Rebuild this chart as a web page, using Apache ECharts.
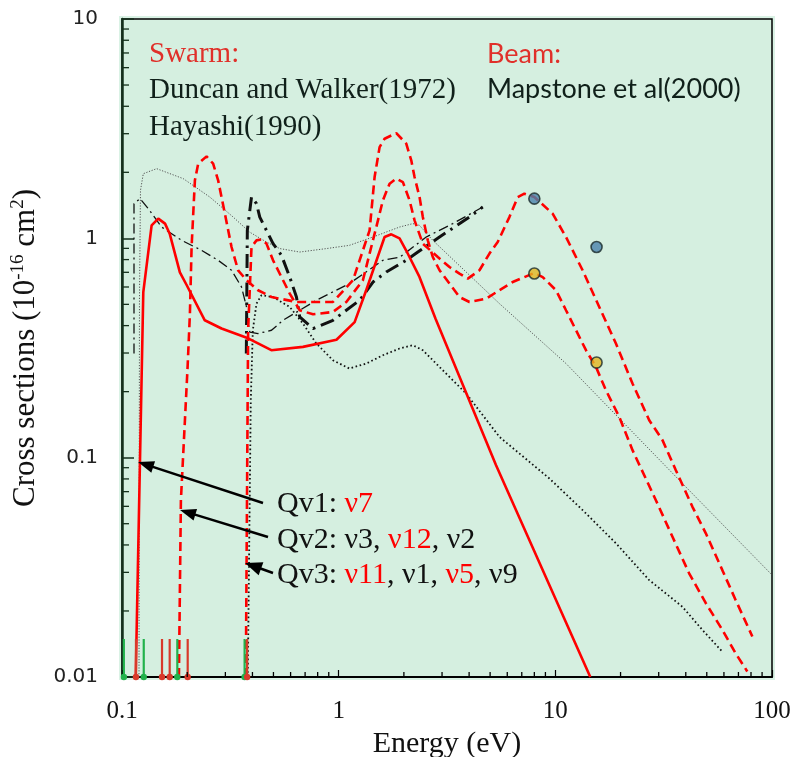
<!DOCTYPE html>
<html><head><meta charset="utf-8">
<script src="https://cdn.jsdelivr.net/npm/echarts@6/dist/echarts.min.js"></script>
<style>html,body{margin:0;padding:0;background:#fff}#c{width:796px;height:757px}</style>
</head><body><div id="c"></div>
<script>
// ---- tick labels ----
const xTickLabels = ['0.1', '1', '10', '100'];
const yTickLabels = ['0.01', '0.1', '1', '10'];
const xMinorTicks = [0.2,0.3,0.4,0.5,0.6,0.7,0.8,0.9,2,3,4,5,6,7,8,9,20,30,40,50,60,70,80,90];
const yMinorTicks = [0.02,0.03,0.04,0.05,0.06,0.07,0.08,0.09,0.2,0.3,0.4,0.5,0.6,0.7,0.8,0.9,2,3,4,5,6,7,8,9];

// ---- Qv1 (red solid) ----
const qv1E = [0.1157,0.1254,0.137,0.147,0.158,0.166,0.185,0.199,0.241,0.288,0.382,0.489,0.684,0.977,1.185,1.34,1.629,1.75,1.91,2.05,2.36,2.8,5.32,14.5];
const qv1S = [0.01,0.569,1.146,1.23,1.167,1.05,0.70,0.611,0.423,0.388,0.35,0.309,0.32,0.345,0.415,0.58,1.014,1.043,1.0,0.88,0.667,0.43,0.0925,0.01];

// ---- Qv2 (red dashed, high peak) ----
const qv2E = [0.1831,0.187,0.2008,0.2058,0.2095,0.217,0.2247,0.2457,0.2634,0.2778,0.2984,0.3203,0.3435,0.3756,0.4247,0.4897,0.6385,0.941,1.164,1.389,1.465,1.545,1.629,1.845,2.051,2.163,2.24,2.362,2.446,2.579,2.72,2.921,3.247,3.611,4.015,4.793,5.52,6.357,8.0,8.74,10.07,11.2,12.46,13.85,15.4,17.12,19.72,22.71,29.11,34.72,41.45,49.5,59.0,68.0,76.9];
const qv2S = [0.01,0.064,0.2593,0.454,0.913,1.838,2.19,2.364,2.19,1.838,1.296,0.913,0.715,0.644,0.58,0.54,0.5127,0.5127,0.644,1.087,1.903,2.606,2.846,3.018,2.70,2.267,1.903,1.542,1.25,0.979,0.822,0.715,0.622,0.54,0.5127,0.531,0.58,0.632,0.695,0.666,0.58,0.47,0.381,0.309,0.259,0.203,0.1535,0.1082,0.064,0.0436,0.0297,0.0217,0.0164,0.0128,0.0106];

// ---- Qv3 (red dashed, lower peak) ----
const qv3E = [0.3728,0.382,0.387,0.396,0.4176,0.4418,0.4643,0.498,0.5537,0.5945,0.661,0.7613,0.941,1.085,1.294,1.389,1.492,1.60,1.718,1.845,1.979,2.124,2.24,2.446,2.868,3.247,3.611,3.944,4.466,4.965,5.42,6.138,6.704,7.195,8.0,9.718,11.2,13.36,15.95,19.04,22.71,27.12,31.23,35.99,42.93,49.5,59.0,68.0,81.15];
const qv3S = [0.01,0.381,0.522,0.913,0.979,0.989,0.946,0.794,0.644,0.56,0.47,0.4506,0.4616,0.5127,0.644,0.852,1.126,1.49,1.775,1.871,1.805,1.49,1.208,0.946,0.822,0.74,0.691,0.655,0.715,0.852,0.962,1.25,1.542,1.598,1.542,1.296,1.014,0.715,0.4864,0.3314,0.2178,0.1482,0.1202,0.0877,0.0597,0.0452,0.0307,0.0224,0.0153];

// ---- upper thin dotted ----
const dotAE = [0.1198,0.1204,0.1217,0.1254,0.1445,0.1918,0.2544,0.326,0.388,0.464,0.535,0.661,0.878,1.12,1.44,1.91,2.20,2.36,2.72,5.52,11.2,38.6,100];
const dotAS = [0.01,0.522,1.654,1.971,2.078,1.871,1.542,1.25,1.068,0.962,0.898,0.866,0.898,0.929,1.014,1.126,1.167,1.146,0.979,0.504,0.2687,0.0763,0.0292];

// ---- lower dotted ----
const dotBE = [0.3807,0.393,0.4016,0.4176,0.4403,0.498,0.5945,0.6845,0.789,0.941,1.12,1.342,1.60,1.91,2.20,2.446,2.921,3.877,5.52,9.385,13.36,19.04,27.12,38.6,47.7,59.0];
const dotBS = [0.01,0.1828,0.381,0.504,0.55,0.54,0.4864,0.4087,0.3314,0.278,0.255,0.2687,0.293,0.3145,0.3255,0.309,0.259,0.196,0.1244,0.0804,0.0577,0.0407,0.02766,0.0209,0.0164,0.01304];

// ---- thin dash-dot ----
const ddAE = [0.1136,0.1136,0.1211,0.1322,0.1524,0.1884,0.2329,0.2778,0.3203,0.3562,0.3756,0.382,0.389,0.4247,0.4897,0.5537,0.789,1.12,1.60,1.91,2.536,3.363,4.624];
const ddAS = [0.2984,1.439,1.517,1.366,1.126,0.979,0.882,0.794,0.715,0.60,0.4864,0.4087,0.374,0.368,0.381,0.423,0.522,0.622,0.794,0.819,1.014,1.167,1.389];

// ---- thick dash-dot ----
const ddBE = [0.3748,0.3788,0.396,0.4176,0.4324,0.498,0.5445,0.5945,0.6385,0.661,0.7613,0.941,1.25,1.44,1.659,2.051,2.32,2.921,4.015,4.624];
const ddBS = [0.2984,1.087,1.542,1.439,1.25,0.946,0.837,0.666,0.54,0.438,0.388,0.423,0.522,0.632,0.702,0.794,0.866,1.014,1.25,1.389];

// ---- beam points ----
const beamE = [8.0, 15.5];
const beamBlueS = [1.517, 0.913];
const beamYellowS = [0.691, 0.2714];

// ---- threshold markers ----
const greenThr = [0.102, 0.126, 0.180, 0.368];
const redThr = [0.116, 0.153, 0.166, 0.201, 0.378];
const thrBottom = 0.01, thrTop = 0.0149;

const zip = (a, b) => a.map((v, i) => [v, b[i]]);

const chart = echarts.init(document.getElementById('c'), null, {renderer: 'canvas'});

function lineSeries(name, E, S, style) {
  return {name, type: 'line', data: zip(E, S), symbol: 'none', showSymbol: false,
    smooth: false, lineStyle: style, z: 3, animation: false};
}

function thrSeries(vals, color, w) {
  return {type: 'custom', data: vals.map(v => [v, thrBottom]), z: 4, animation: false,
    renderItem: (p, api) => {
      const a = api.coord([api.value(0), thrBottom]);
      const b = api.coord([api.value(0), thrTop]);
      return {type: 'group', children: [
        {type: 'line', shape: {x1: a[0], y1: a[1], x2: b[0], y2: b[1]}, style: {stroke: color, lineWidth: w}},
        {type: 'circle', shape: {cx: a[0], cy: a[1], r: 3.2}, style: {fill: color}}
      ]};
    }};
}

function arrow(sx, sy, tx, ty, L, W) {
  const dx = tx - sx, dy = ty - sy, len = Math.hypot(dx, dy), ux = dx / len, uy = dy / len;
  const bx = tx - ux * L, by = ty - uy * L;
  return [
    {type: 'line', shape: {x1: sx, y1: sy, x2: bx + ux * 2, y2: by + uy * 2}, style: {stroke: '#000', lineWidth: 2.5}, z: 10},
    {type: 'polygon', shape: {points: [[tx, ty], [bx - uy * W, by + ux * W], [bx + uy * W, by - ux * W]]}, style: {fill: '#000'}, z: 10}
  ];
}

const serif = '"Liberation Serif", "Times New Roman", serif';
const sans = 'Lato, "Open Sans", sans-serif';
const RED = '#ff0000';
const qvFont = '30px ' + serif;

const option = {
  animation: false,
  backgroundColor: '#fff',
  grid: {left: 122, top: 19, right: 24, bottom: 80, show: true, containLabel: false, outerBoundsMode: 'none',
    backgroundColor: '#d5efe0', borderColor: '#000', borderWidth: 1.5},
  xAxis: {
    type: 'log', logBase: 10, min: 0.1, max: 100,
    axisLine: {show: true, lineStyle: {color: '#000', width: 2}},
    axisTick: {show: true, inside: true, length: 7, lineStyle: {color: '#000', width: 1.2}},
    splitLine: {show: false},
    axisLabel: {margin: 22, fontFamily: serif, fontSize: 25, color: '#111',
      formatter: v => xTickLabels[Math.round(Math.log10(v)) + 1]},
    name: 'Energy (eV)', nameLocation: 'middle', nameGap: 52,
    nameTextStyle: {fontFamily: serif, fontSize: 30, color: '#111'}
  },
  yAxis: {
    type: 'log', logBase: 10, min: 0.01, max: 10,
    axisLine: {show: true, lineStyle: {color: '#14301c', width: 2.5}},
    axisTick: {show: true, inside: true, length: 12, lineStyle: {color: '#14301c', width: 1.5}},
    splitLine: {show: false},
    axisLabel: {margin: 24, fontFamily: '"DejaVu Sans", Verdana, sans-serif', fontSize: 20, color: '#222',
      formatter: v => yTickLabels[Math.round(Math.log10(v)) + 2]},
    name: 'Cross sections (10{sup|-16} cm{sup|2})', nameLocation: 'middle', nameGap: 70, nameRotate: 90,
    nameTextStyle: {fontFamily: serif, fontSize: 31, color: '#111', lineHeight: 34,
      rich: {sup: {fontFamily: serif, fontSize: 19, color: '#111', verticalAlign: 'top', lineHeight: 34}}}
  },
  series: [
    {type: 'custom', data: xMinorTicks.map(v => [v, 0.01]), z: 5, animation: false,
      renderItem: (p, api) => { const c = api.coord([api.value(0), 0.01]);
        return {type: 'line', shape: {x1: c[0], y1: c[1], x2: c[0], y2: c[1] - 5}, style: {stroke: '#000', lineWidth: 1.3}}; }},
    {type: 'custom', data: yMinorTicks.map(v => [0.1, v]), z: 5, animation: false,
      renderItem: (p, api) => { const c = api.coord([0.1, api.value(1)]);
        return {type: 'line', shape: {x1: c[0], y1: c[1], x2: c[0] + 7, y2: c[1]}, style: {stroke: '#14301c', lineWidth: 1.3}}; }},
    lineSeries('dotA', dotAE, dotAS, {color: '#555', width: 1, type: [1.2, 1.6]}),
    lineSeries('dotB', dotBE, dotBS, {color: '#111', width: 1.8, type: [1.6, 2.6]}),
    lineSeries('ddA', ddAE, ddAS, {color: '#111', width: 1.3, type: [10, 4, 2, 4]}),
    lineSeries('ddB', ddBE, ddBS, {color: '#111', width: 3, type: [14, 6, 2.5, 6]}),
    thrSeries(greenThr, '#22b24c', 2.2),
    thrSeries(redThr, '#d83a2a', 2.2),
    lineSeries('qv1', qv1E, qv1S, {color: RED, width: 2.6}),
    lineSeries('qv2', qv2E, qv2S, {color: RED, width: 2.6, type: [9, 5]}),
    lineSeries('qv3', qv3E, qv3S, {color: RED, width: 2.6, type: [9, 5]}),
    {type: 'scatter', data: zip(beamE, beamBlueS), symbol: 'circle', symbolSize: 11, z: 6,
      itemStyle: {color: '#4a82ab', borderColor: '#1a2a2a', borderWidth: 1.6}},
    {type: 'scatter', data: zip(beamE, beamYellowS), symbol: 'circle', symbolSize: 11, z: 6,
      itemStyle: {color: '#e2b620', borderColor: '#1a2a2a', borderWidth: 1.6}}
  ],
  graphic: [
    {type: 'rect', shape: {x: 119, y: 16, width: 656, height: 664}, style: {fill: '#daf2e5'}, z: -1, silent: true},
    {type: 'text', x: 149, y: 54, style: {text: 'Swarm:', font: '29px ' + serif, fill: '#e0302a', verticalAlign: 'middle'}, z: 10},
    {type: 'text', x: 149, y: 90, style: {text: 'Duncan and Walker(1972)', font: '29px ' + serif, fill: '#10201a', verticalAlign: 'middle'}, z: 10},
    {type: 'text', x: 149, y: 127, style: {text: 'Hayashi(1990)', font: '29px ' + serif, fill: '#10201a', verticalAlign: 'middle'}, z: 10},
    {type: 'text', x: 487, y: 54, style: {text: 'Beam:', font: '27px ' + sans, fill: '#e0302a', verticalAlign: 'middle'}, z: 10},
    {type: 'text', x: 487, y: 89, style: {text: 'Mapstone et al(2000)', font: '27px ' + sans, fill: '#10201a', verticalAlign: 'middle'}, z: 10},
    {type: 'text', x: 277, y: 504, z: 10, style: {text: '{k|Qv1: }{r|ν7}', font: qvFont, verticalAlign: 'middle',
      rich: {k: {fill: '#111', font: qvFont}, r: {fill: RED, font: qvFont}}}},
    {type: 'text', x: 277, y: 540, z: 10, style: {text: '{k|Qv2: ν3, }{r|ν12}{k|, ν2}', font: qvFont, verticalAlign: 'middle',
      rich: {k: {fill: '#111', font: qvFont}, r: {fill: RED, font: qvFont}}}},
    {type: 'text', x: 277, y: 575, z: 10, style: {text: '{k|Qv3: }{r|ν11}{k|, ν1, }{r|ν5}{k|, ν9}', font: qvFont, verticalAlign: 'middle',
      rich: {k: {fill: '#111', font: qvFont}, r: {fill: RED, font: qvFont}}}},
    ...arrow(263, 503, 138, 462, 16, 6),
    ...arrow(268, 537, 180, 510, 16, 6),
    ...arrow(273, 573, 245, 563, 17, 7)
  ]
};
chart.setOption(option);
</script>
</body></html>
